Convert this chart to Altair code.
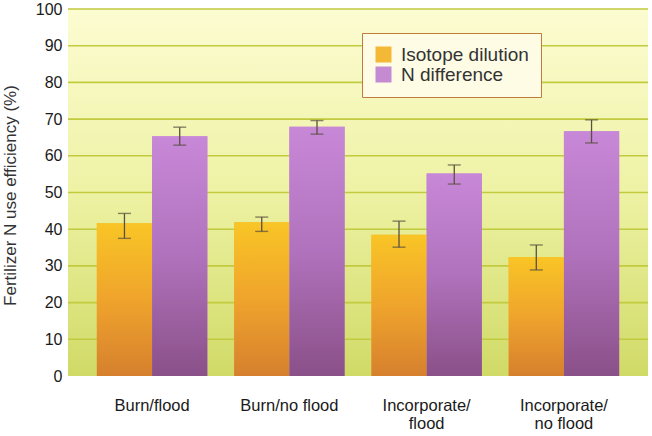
import altair as alt
import pandas as pd

categories = ["Burn/flood", "Burn/no flood", "Incorporate/flood", "Incorporate/no flood"]
series = ["Isotope dilution", "N difference"]
isotope = [41.6, 41.9, 38.5, 32.4]
isotope_lo = [37.5, 39.4, 35.1, 28.9]
isotope_hi = [44.3, 43.3, 42.2, 35.7]
ndiff = [65.3, 67.9, 55.2, 66.7]
ndiff_lo = [62.9, 65.9, 52.3, 63.5]
ndiff_hi = [67.8, 69.6, 57.5, 69.8]
grid_values = [10, 20, 30, 40, 50, 60, 70, 80, 90, 100]
tick_values = [0, 10, 20, 30, 40, 50, 60, 70, 80, 90, 100]

rows = []
for i, c in enumerate(categories):
    rows.append(dict(cat=c, s=series[0], v=isotope[i], lo=isotope_lo[i], hi=isotope_hi[i]))
    rows.append(dict(cat=c, s=series[1], v=ndiff[i], lo=ndiff_lo[i], hi=ndiff_hi[i]))
df = pd.DataFrame(rows)
grid_df = pd.DataFrame({"g": grid_values})

FONT = "Liberation Sans"
W, H = 580, 367
TITLE = "Fertilizer N use efficiency (%)"

x_axis = alt.Axis(labelAngle=0, labelFontSize=16.5, labelFont=FONT, labelColor="#1a1a1a",
                  labelPadding=21, domain=False, ticks=False, labelLineHeight=18,
                  labelExpr="indexof(datum.label,'Incorporate/')==0 ? ['Incorporate/', substring(datum.label,12)] : datum.label")
x_scale = alt.Scale(paddingInner=0.195, paddingOuter=0.21)
xs = alt.X("cat:N", sort=categories, title=None, scale=x_scale, axis=x_axis)
xo_enc = alt.XOffset("s:N", sort=series, scale=alt.Scale(paddingInner=0, paddingOuter=0))

y_axis = alt.Axis(values=tick_values, tickCount=11, labelOverlap=False, labelFontSize=16, labelFont=FONT,
                  labelColor="#1a1a1a", labelPadding=6, domain=False, ticks=False,
                  grid=False,
                  titleFont=FONT, titleFontSize=17, titleFontWeight="normal",
                  titleColor="#333", titleAngle=-90, titleX=-53, titleY=186,
                  titleAlign="center", titleBaseline="alphabetic")
y_scale = alt.Scale(domain=[0, 100], nice=False)


def yenc(field):
    return alt.Y(field, title=TITLE, scale=y_scale, axis=y_axis)


color_enc = alt.Color("s:N", sort=series,
                      scale=alt.Scale(domain=series, range=["#f3b936", "#c58bd2"]),
                      legend=alt.Legend(title=None, orient="none", legendX=294, legendY=24,
                                        symbolType="square", symbolSize=256, symbolStrokeWidth=0,
                                        labelFontSize=19, labelFont=FONT, labelColor="#333",
                                        fillColor="#fffce6", strokeColor="#c07a3c",
                                        padding=12, rowPadding=-3, labelOffset=8))


def grad(stops):
    return alt.Gradient(gradient="linear", x1=0, x2=0, y1=0, y2=1,
                        stops=[alt.GradientStop(color=c, offset=o) for o, c in stops])


bg = alt.Chart(pd.DataFrame({"k": [0]})).mark_rect(
    color=grad([(0, "#fcfcd2"), (0.5, "#eef2a4"), (1, "#d0da66")])
).encode(x=alt.value(0), x2=alt.value(W), y=alt.value(0), y2=alt.value(H))

grid = alt.Chart(grid_df).mark_rule(color="#c2ca3e", strokeWidth=1.6).encode(
    y=yenc("g:Q"))

base = alt.Chart(df)

flat = base.mark_bar().encode(x=xs, xOffset=xo_enc, y=yenc("v:Q"), color=color_enc)

orange = base.transform_filter(alt.datum.s == series[0]).mark_bar(
    color=grad([(0, "#f9c526"), (0.5, "#efa42c"), (1, "#d6802e")])
).encode(x=xs, xOffset=xo_enc, y=yenc("v:Q"))

purple = base.transform_filter(alt.datum.s == series[1]).mark_bar(
    color=grad([(0, "#c888d8"), (0.5, "#b072bc"), (1, "#8a5088")])
).encode(x=xs, xOffset=xo_enc, y=yenc("v:Q"))

rule = base.mark_rule(color="#5a5040", strokeWidth=1.3).encode(
    x=xs, xOffset=xo_enc, y=yenc("lo:Q"), y2="hi:Q")
cap_lo = base.mark_tick(color="#5a5040", orient="horizontal", size=13, thickness=1.4).encode(
    x=xs, xOffset=xo_enc, y=yenc("lo:Q"))
cap_hi = base.mark_tick(color="#5a5040", orient="horizontal", size=13, thickness=1.4).encode(
    x=xs, xOffset=xo_enc, y=yenc("hi:Q"))

chart = alt.layer(bg, grid, flat, orange, purple, rule, cap_lo, cap_hi).properties(
    width=W, height=H,
    autosize=alt.AutoSizeParams(type="none"),
    padding={"left": 68, "top": 9, "right": 4, "bottom": 60},
    background="white",
).configure_view(stroke=None).configure_axisY(labelOverlap=False)

chart.save("out.html", embed_options={"renderer": "svg", "actions": False})
